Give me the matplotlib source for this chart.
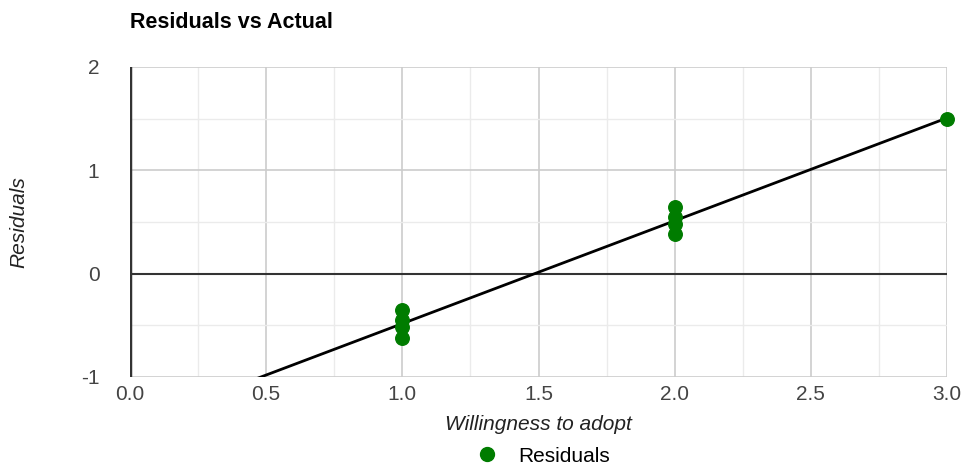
import numpy as np
import matplotlib.pyplot as plt
from matplotlib.ticker import MultipleLocator
from matplotlib.lines import Line2D

# Data
actual = [1, 1, 1, 1, 2, 2, 2, 2, 3]
residuals = [-0.35, -0.45, -0.52, -0.62, 0.65, 0.55, 0.48, 0.38, 1.5]
x_ticks = [0.0, 0.5, 1.0, 1.5, 2.0, 2.5, 3.0]
y_ticks = [-1, 0, 1, 2]

plt.rcParams['font.family'] = ['Liberation Sans', 'DejaVu Sans']

fig = plt.figure(figsize=(9.64, 4.68), dpi=100)
ax = fig.add_axes([130 / 964, 1 - 377 / 468, (947 - 130) / 964, (377 - 67) / 468])

# grid
ax.xaxis.set_minor_locator(MultipleLocator(0.25))
ax.yaxis.set_minor_locator(MultipleLocator(0.5))
ax.set_xticks(x_ticks)
ax.set_yticks(y_ticks)
ax.grid(which='major', color='#cccccc', linewidth=1.2, zorder=0)
ax.grid(which='minor', color='#ebebeb', linewidth=1.0, zorder=0)
ax.set_axisbelow(True)
for s in ax.spines.values():
    s.set_visible(False)

# baselines
ax.axhline(0, color='#333333', linewidth=1.5, zorder=1)
ax.axvline(0, color='#333333', linewidth=2.5, zorder=1)

# trendline
slope, intercept = np.polyfit(actual, residuals, 1)
xs = np.array([0, 3.0])
ax.plot(xs, slope * xs + intercept, color='black', linewidth=2, zorder=2)

ax.scatter(actual, residuals, s=95, color='#007c00', zorder=3, clip_on=False)

ax.set_xlim(0, 3)
ax.set_ylim(-1, 2)
ax.tick_params(which='both', length=0, labelsize=15, labelcolor='#444444')
ax.tick_params(axis='x', pad=6)
ax.tick_params(axis='y', pad=22)
ax.set_xticklabels(['%.1f' % v for v in x_ticks])
ax.set_yticklabels([str(v) for v in y_ticks])

ax.set_xlabel('Willingness to adopt', fontsize=15, style='italic', color='#222222', labelpad=8)
fig.text(19 / 964, 1 - 222 / 468, 'Residuals', fontsize=15, style='italic', color='#222222',
         rotation=90, ha='center', va='center')

fig.text(130 / 964, 1 - 22 / 468, 'Residuals vs Actual', fontsize=15.5, fontweight='bold',
         va='center', ha='left', color='black')

handle = Line2D([], [], marker='o', linestyle='none', color='#007c00', markersize=10)
fig.legend([handle], ['Residuals'], loc='center', bbox_to_anchor=(538 / 964, 1 - 456 / 468),
           frameon=False, fontsize=15, handletextpad=0.5)

fig.savefig('out.png', dpi=100)
